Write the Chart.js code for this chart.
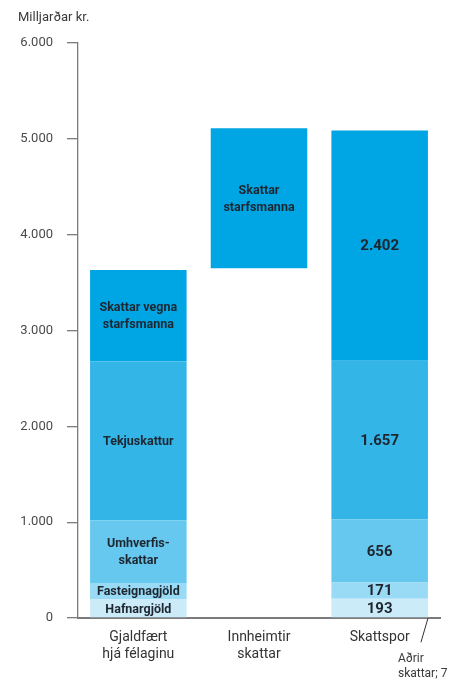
<!DOCTYPE html>
<html>
<head>
<meta charset="utf-8">
<script src="https://cdn.jsdelivr.net/npm/chart.js@4.4.7/dist/chart.umd.min.js"></script>
<style>
  html, body { margin: 0; padding: 0; background: #fff; }
  #wrap { width: 463px; height: 681px; }
</style>
</head>
<body>
<div id="wrap"><canvas id="chart" width="463" height="681"></canvas></div>
<script>
// Categories (x-axis), multi-line
const CATEGORIES = [['Gjaldfært', 'hjá félaginu'], ['Innheimtir', 'skattar'], 'Skattspor'];

// Series values per category (null = no segment)
const ADRIR = [null, null, 7];
const HAFNARGJOLD = [193, null, 193];
const FASTEIGNAGJOLD = [171, null, 171];
const UMHVERFIS = [656, null, 656];
const TEKJUSKATTUR = [1657, null, 1657];
const STARFSMANNA = [954, null, 2402];
const INNHEIMTIR = [null, [3650, 5110], null]; // floating bar

const Y_TICKS = [0, 1000, 2000, 3000, 4000, 5000, 6000];

// Text written inside the bars
const LBL_HAFNAR = ['Hafnargjöld', null, '193'];
const LBL_FASTEIGN = ['Fasteignagjöld', null, '171'];
const LBL_UMHVERFIS = [['Umhverfis-', 'skattar'], null, '656'];
const LBL_TEKJU = ['Tekjuskattur', null, '1.657'];
const LBL_STARFS = [['Skattar vegna', 'starfsmanna'], null, '2.402'];
const LBL_INNHEIMTIR = [null, ['Skattar', 'starfsmanna'], null];

const COLORS = {
  starfs: '#00a5e3',
  tekju: '#33b5e8',
  umhverfis: '#66c8ee',
  fasteign: '#99daf4',
  hafnar: '#cbebf8',
  adrir: '#0a86c0',
};

const AXIS_GREY = '#7b7b7b';
const TEXT_DARK = '#1e2630';
const FONT = 'Roboto, "Open Sans", sans-serif';

function fmt(v) {
  return String(v).replace(/\B(?=(\d{3})+(?!\d))/g, '.');
}

// draws labels centred in each bar segment
const segmentLabels = {
  id: 'segmentLabels',
  afterDatasetsDraw(chart) {
    const ctx = chart.ctx;
    chart.data.datasets.forEach((ds, di) => {
      if (!ds.inLabels) return;
      const meta = chart.getDatasetMeta(di);
      meta.data.forEach((el, i) => {
        const lbl = ds.inLabels[i];
        if (!lbl) return;
        const lines = Array.isArray(lbl) ? lbl : [lbl];
        const isNum = /^[\d.]+$/.test(lines[0]);
        const size = isNum ? 15 : 12.5;
        const lh = 17;
        ctx.save();
        ctx.fillStyle = TEXT_DARK;
        ctx.font = `bold ${size}px ${FONT}`;
        ctx.textAlign = 'center';
        ctx.textBaseline = 'middle';
        const cy = (el.y + el.base) / 2;
        const y0 = cy - (lines.length - 1) * lh / 2;
        lines.forEach((t, k) => ctx.fillText(t, el.x, y0 + k * lh + 1));
        ctx.restore();
      });
    });
  },
};

// unit title + annotation for "Aðrir skattar"
const extras = {
  id: 'extras',
  afterDraw(chart) {
    const ctx = chart.ctx;
    ctx.save();
    ctx.fillStyle = '#3a3a3a';
    ctx.font = `13px ${FONT}`;
    ctx.textAlign = 'left';
    ctx.textBaseline = 'middle';
    ctx.fillText('Milljarðar kr.', 18, 18);

    const meta = chart.getDatasetMeta(0);
    const el = meta.data[2];
    const xr = el.x + el.width / 2;
    ctx.strokeStyle = '#333';
    ctx.lineWidth = 1;
    ctx.beginPath();
    ctx.moveTo(xr, el.base + 1);
    ctx.lineTo(xr - 7, el.base + 25);
    ctx.stroke();
    ctx.fillStyle = '#3a3a3a';
    ctx.font = `12px ${FONT}`;
    ctx.fillText('Aðrir', xr - 30, 659);
    ctx.fillText('skattar; ' + ADRIR[2], xr - 30, 674);
    ctx.restore();
  },
};

const common = { stack: 's', barPercentage: 0.8, categoryPercentage: 1, borderWidth: 0 };

new Chart(document.getElementById('chart'), {
  type: 'bar',
  data: {
    labels: CATEGORIES,
    datasets: [
      { ...common, label: 'Aðrir skattar', data: ADRIR, backgroundColor: COLORS.adrir },
      { ...common, label: 'Hafnargjöld', data: HAFNARGJOLD, backgroundColor: COLORS.hafnar, inLabels: LBL_HAFNAR },
      { ...common, label: 'Fasteignagjöld', data: FASTEIGNAGJOLD, backgroundColor: COLORS.fasteign, inLabels: LBL_FASTEIGN },
      { ...common, label: 'Umhverfisskattar', data: UMHVERFIS, backgroundColor: COLORS.umhverfis, inLabels: LBL_UMHVERFIS },
      { ...common, label: 'Tekjuskattur', data: TEKJUSKATTUR, backgroundColor: COLORS.tekju, inLabels: LBL_TEKJU },
      { ...common, label: 'Skattar starfsmanna', data: STARFSMANNA, backgroundColor: COLORS.starfs, inLabels: LBL_STARFS },
      { ...common, label: 'Innheimtir skattar', data: INNHEIMTIR, backgroundColor: COLORS.starfs, inLabels: LBL_INNHEIMTIR },
    ],
  },
  options: {
    responsive: false,
    animation: false,
    layout: { padding: { top: 43, right: 23, left: 0, bottom: 0 } },
    plugins: {
      legend: { display: false },
      tooltip: { enabled: false },
    },
    scales: {
      x: {
        stacked: true,
        grid: { display: false },
        border: { display: true, color: AXIS_GREY, width: 2 },
        ticks: {
          color: '#333',
          font: { family: FONT, size: 14, lineHeight: 1.22 },
          padding: 3,
          maxRotation: 0,
        },
        afterFit: (s) => { s.height = 63; },
      },
      y: {
        stacked: true,
        min: 0,
        max: 6000,
        afterBuildTicks: (s) => { s.ticks = Y_TICKS.map((v) => ({ value: v })); },
        grid: {
          drawOnChartArea: false,
          drawTicks: true,
          tickLength: 11,
          color: AXIS_GREY,
          lineWidth: 1.3,
        },
        border: { display: true, color: AXIS_GREY, width: 1.3 },
        ticks: {
          color: '#4a4a4a',
          font: { family: FONT, size: 13 },
          padding: 14,
          callback: (v) => fmt(v),
        },
        afterFit: (s) => { s.width = 78; },
      },
    },
  },
  plugins: [segmentLabels, extras],
});
</script>
</body>
</html>
